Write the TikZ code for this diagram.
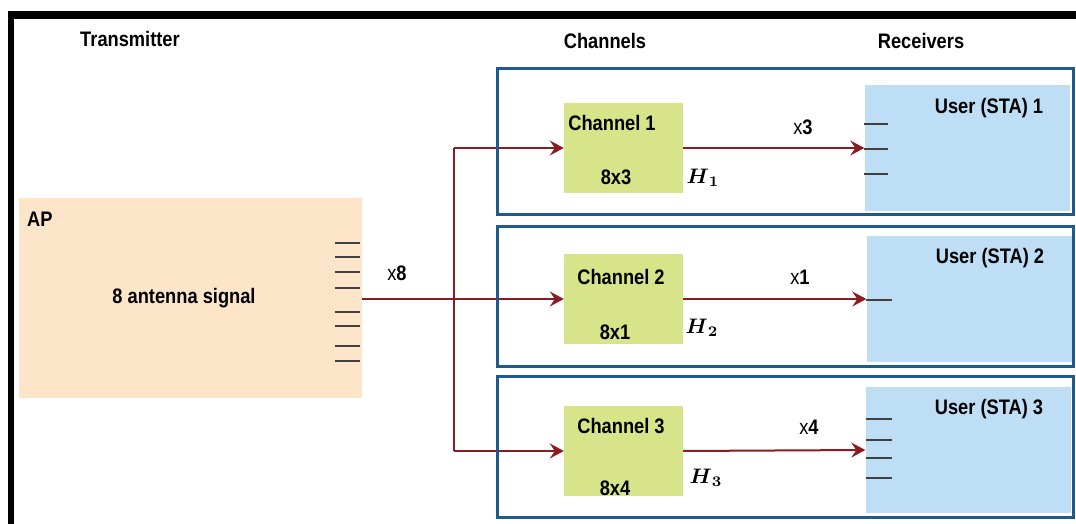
\documentclass[tikz,border=0pt]{standalone}
\usepackage{fontspec}
\usepackage{amsmath}
\usepackage{graphicx}
\setmainfont{Liberation Sans}[FakeStretch=0.87]
\usetikzlibrary{arrows.meta}
\definecolor{apfill}{RGB}{252,229,201}
\definecolor{chfill}{RGB}{215,228,138}
\definecolor{usfill}{RGB}{190,222,245}
\definecolor{frameblue}{RGB}{31,90,140}
\definecolor{sigred}{RGB}{140,28,34}
\definecolor{antgray}{RGB}{64,64,64}
\newcommand{\hsym}[1]{\scalebox{2.1}{$\boldsymbol{H}_{\boldsymbol{#1}}$}}
\begin{document}
\begin{tikzpicture}[x=1pt,y=-1pt,
  lbl/.style={font=\fontsize{21}{24}\selectfont\bfseries, inner sep=0pt, text height=15pt, text depth=0pt},
  mult/.style={font=\fontsize{21}{24}\selectfont, inner sep=0pt, text height=15pt, text depth=0pt},
  hlab/.style={inner sep=0pt},
  apbox/.style={fill=apfill, draw=none, minimum width=343pt, minimum height=200pt, inner sep=0pt},
  chbox/.style={fill=chfill, draw=none, minimum width=119pt, minimum height=90pt, inner sep=0pt},
  usbox/.style={fill=usfill, draw=none, minimum width=205pt, minimum height=126pt, inner sep=0pt},
  frm/.style={draw=frameblue, line width=3pt, fill=none, minimum width=576pt, inner sep=0pt},
  sig/.style={draw=sigred, line width=2pt},
  sigarr/.style={sig, -{Stealth[length=14pt, width=15pt, inset=5pt]}},
  ant/.style={draw=antgray, line width=1.4pt}
]
\useasboundingbox (0,0) rectangle (1076,524);
% outer black border
\fill[black] (8,11) rectangle (1076,19);
\fill[black] (8,11) rectangle (14,524);

% headings
\node[lbl] (tx) at (130,39) {Transmitter};
\node[lbl] (chs) at (605,41) {Channels};
\node[lbl] (rxs) at (921,41) {Receivers};

% AP
\node[apbox] (ap) at (190.5,298) {};
\node[lbl, anchor=west] (aplbl) at (27,219) {AP};
\node[lbl] (apsig) at (184,296) {8 antenna signal};
\foreach \yy in {243,257,272,288,312,326,346,361}
  \draw[ant] (335,\yy) -- (360,\yy);
\node[mult] (x8) at (397,273) {x\textbf{8}};

% user boxes
\node[usbox] (u1) at (967,148) {};
\node[usbox] (u2) at (969,299) {};
\node[usbox] (u3) at (968,450) {};
\node[lbl] (u1l) at (989,106) {User (STA) 1};
\node[lbl] (u2l) at (990,256) {User (STA) 2};
\node[lbl] (u3l) at (989,407) {User (STA) 3};
\foreach \yy in {124,149,174}
  \draw[ant] (864,\yy) -- (888,\yy);
\draw[ant] (866,300) -- (892,300);
\foreach \yy in {419,440,458,478}
  \draw[ant] (866,\yy) -- (892,\yy);

% channels
\node[chbox] (ch1) at (623.5,148) {};
\node[chbox] (ch2) at (623.5,299) {};
\node[chbox] (ch3) at (623.5,451) {};
\node[lbl] (c1l) at (612,123) {Channel 1};
\node[lbl] (c1d) at (616,177) {8x3};
\node[lbl] (c2l) at (621,277) {Channel 2};
\node[lbl] (c2d) at (615,332) {8x1};
\node[lbl] (c3l) at (621,426) {Channel 3};
\node[lbl] (c3d) at (615,488) {8x4};
\node[hlab] (h1) at (703,178) {\hsym{1}};
\node[hlab] (h2) at (702,328) {\hsym{2}};
\node[hlab] (h3) at (706,478) {\hsym{3}};
\node[mult] (x3) at (803,127) {x\textbf{3}};
\node[mult] (x1) at (800,277) {x\textbf{1}};
\node[mult] (x4) at (809,427) {x\textbf{4}};

% signal paths
\coordinate (sp) at (454,299);
\draw[sigarr] (ap.east |- sp) -- (ch2.west);
\draw[sig] (sp |- ch1.west) -- (sp |- ch3.west);
\draw[sigarr] (sp |- ch1.west) -- (ch1.west);
\draw[sigarr] (sp |- ch3.west) -- (ch3.west);
\draw[sigarr] (ch1.east) -- (u1.west);
\draw[sigarr] (ch2.east) -- (u2.west);
\draw[sigarr] (ch3.east) -- (u3.west);

% frames
\node[frm, minimum height=145pt] (f1) at (785,141.5) {};
\node[frm, minimum height=140pt] (f2) at (785,296) {};
\node[frm, minimum height=141pt] (f3) at (785,446.5) {};
\end{tikzpicture}
\end{document}
